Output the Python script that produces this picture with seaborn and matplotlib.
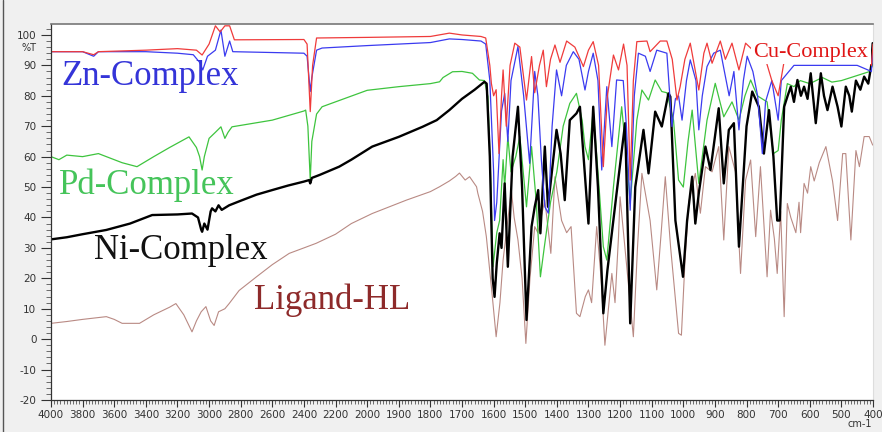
import numpy as np
import pandas as pd
import matplotlib
matplotlib.use("Agg")
import matplotlib.pyplot as plt
import seaborn as sns

# ---------------- data (wavenumber cm-1, %T) ----------------
cu_wn = [4000, 3800, 3730, 3700, 3400, 3200, 3080, 3044, 3000, 2960, 2930, 2900, 2870, 2840,
         2400, 2380, 2360, 2345, 2320, 2000, 1800, 1740, 1700, 1640, 1625, 1612, 1607, 1600,
         1592, 1583, 1575, 1570, 1560, 1548, 1533, 1517, 1496, 1480, 1470, 1455, 1443, 1433,
         1420, 1406, 1390, 1369, 1343, 1316, 1300, 1285, 1268, 1253, 1240, 1221, 1205, 1189,
         1178, 1168, 1158, 1147, 1115, 1105, 1073, 1052, 1035, 1020, 1010, 995, 978, 951, 935,
         925, 909, 883, 867, 846, 824, 803, 780, 740, 720, 700, 680, 600, 500, 420, 405, 400]
cu_t = [94.5, 94.5, 93.5, 94.5, 95, 95.5, 95, 93.4, 97, 103, 101, 103, 103, 98.4,
        98.5, 97, 74.8, 90, 99, 99.2, 99.5, 100.6, 100, 99.5, 99, 90, 84, 80,
        82, 61, 80, 88.5, 70, 90, 97.3, 96, 78.6, 92.9, 81, 90, 95, 83,
        92, 96.7, 91, 98, 96, 89.6, 95, 97.8, 90, 56.7, 80, 93.4, 88.5, 97,
        90, 52.3, 85, 97.8, 98, 94.5, 98, 98, 92, 78.6, 83, 92, 97.3, 81.9, 94,
        97.3, 90.7, 98, 92, 97.3, 88.5, 97.3, 95, 92, 85, 80, 92, 95, 95, 93, 90, 97]

zn_wn = [4000, 3800, 3730, 3700, 3400, 3200, 3100, 3060, 3040, 3010, 2960, 2925, 2900, 2870,
         2850, 2400, 2380, 2360, 2350, 2320, 2285, 2000, 1800, 1740, 1700, 1640, 1625, 1612,
         1600, 1597, 1590, 1575, 1565, 1555, 1545, 1523, 1505, 1486, 1470, 1460, 1449, 1438,
         1427, 1415, 1401, 1385, 1370, 1348, 1330, 1311, 1300, 1285, 1270, 1258, 1242, 1226,
         1211, 1190, 1180, 1168, 1155, 1142, 1120, 1105, 1084, 1052, 1036, 1025, 1015, 1004,
         990, 978, 960, 951, 940, 925, 904, 883, 870, 855, 840, 824, 810, 798, 780, 765, 750,
         740, 720, 700, 690, 650, 550, 450, 405, 400]
zn_t = [94.5, 94.5, 93, 94.5, 94.5, 94, 93.5, 91, 88.5, 93, 95, 101.6, 93, 98,
        94.5, 94, 93, 81.4, 86, 95, 95.7, 96.5, 97.5, 98.7, 98.5, 98, 97, 85,
        55, 39, 45, 75, 80.8, 65, 85, 96.2, 80, 57.8, 88, 80, 59, 43.5,
        41.4, 70, 88.5, 80, 90, 94.5, 92, 81.9, 88, 94, 85, 55.6, 83, 63.3,
        85.2, 85, 70, 42.4, 80, 94, 93, 88, 95, 94, 69.9, 79, 80, 72,
        85, 91.8, 85, 68.8, 80, 89.6, 94, 95, 88, 80, 88, 68.8, 85, 93, 88, 80, 61,
        78, 85, 72, 85, 90, 90, 90, 88, 96]

pd_wn = [4000, 3950, 3900, 3800, 3700, 3650, 3600, 3550, 3456, 3350, 3250, 3127, 3080, 3060,
         3044, 3030, 3000, 2960, 2925, 2900, 2880, 2855, 2600, 2400, 2389, 2375, 2360, 2350,
         2320, 2285, 2000, 1900, 1800, 1771, 1760, 1730, 1700, 1667, 1645, 1629, 1618, 1610,
         1602, 1590, 1581, 1570, 1565, 1555, 1545, 1530, 1517, 1496, 1480, 1465, 1452, 1440,
         1420, 1400, 1380, 1359, 1338, 1320, 1311, 1300, 1285, 1270, 1253, 1242, 1221, 1195,
         1180, 1168, 1147, 1131, 1110, 1089, 1068, 1052, 1031, 1015, 1000, 985, 972, 951, 925,
         899, 872, 846, 824, 805, 787, 766, 735, 715, 700, 690, 671, 650, 630, 600, 560, 530,
         500, 470, 440, 410, 400]
pd_t = [60, 59, 60.5, 60, 61, 60, 59, 58, 56.7, 60, 63, 66.5, 63, 60,
        55.6, 60, 66, 68, 69.8, 66, 68, 69.8, 72, 75, 75.3, 70, 52.3, 65,
        74, 76.4, 81.8, 83, 84, 84.6, 86, 87.9, 88, 87.4, 85.2, 85, 79.7, 55,
        23.8, 35, 39, 59, 50, 66.6, 55, 60, 66.6, 43.5, 63.3, 45, 20.5, 30,
        45, 55, 70, 77.5, 80.8, 72, 63.3, 59, 75.3, 55, 30.4, 26, 50, 76.4,
        60, 44.6, 72, 81.9, 78.6, 85.2, 81.4, 81, 72, 52.3, 50, 65, 75.3, 51.2, 72,
        84.1, 73.1, 78, 72, 80, 85.2, 80, 78, 61, 62, 72, 84, 83, 85, 84, 86, 84.5,
        85, 86, 87, 88, 90.7]

ni_wn = [4000, 3900, 3800, 3650, 3500, 3360, 3200, 3108, 3070, 3050, 3044, 3030, 3010, 2990,
         2981, 2960, 2940, 2920, 2873, 2800, 2700, 2601, 2500, 2400, 2367, 2360, 2350, 2300,
         2177, 2100, 1984, 1900, 1825, 1780, 1740, 1700, 1660, 1629, 1622, 1612, 1603, 1597,
         1590, 1581, 1575, 1565, 1555, 1540, 1523, 1510, 1496, 1480, 1470, 1459, 1452, 1438,
         1428, 1401, 1388, 1375, 1359, 1338, 1327, 1300, 1285, 1270, 1253, 1240, 1211, 1184,
         1168, 1152, 1126, 1110, 1089, 1068, 1047, 1041, 1025, 1001, 988, 972, 962, 951, 930,
         914, 888, 872, 856, 840, 824, 800, 782, 761, 745, 729, 715, 703, 695, 681, 670, 660,
         650, 639, 628, 618, 607, 597, 581, 565, 555, 544, 528, 512, 500, 486, 475, 467, 454,
         440, 428, 415, 406, 401]
ni_t = [32.8, 33.5, 34.5, 35.9, 38, 40.8, 41, 41.3, 40, 36, 35.3, 38, 36, 42,
        43, 42, 44, 42.5, 44, 45.5, 47.5, 49, 50.5, 51.8, 52.3, 51.2, 53, 54,
        56.7, 59, 63.3, 66.5, 69.8, 72, 75.3, 79, 82, 84.6, 84, 60, 20, 13.9,
        25, 34.8, 30, 51.2, 23.8, 60, 76.4, 50, 6.3, 37, 43.5, 49, 34.8, 63.3,
        43.5, 68.8, 61, 45.7, 72, 74.2, 76.4, 38, 76.4, 50, 8.5, 22.7, 48, 71,
        5.2, 50, 68.8, 54.5, 74.8, 69.9, 80.8, 79.7, 39, 20.5, 39, 53.4, 38, 48, 63.3,
        55.6, 75.9, 51.2, 68.8, 71, 30.4, 70, 81.4, 76.4, 61, 75.3, 60, 39, 39, 76.4, 80, 83,
        78, 85.2, 80, 83, 79, 87.4, 71, 87.4, 80, 75.3, 83, 76.4, 69.9, 83, 80, 74.8, 85,
        82, 86.3, 84, 89.6, 97.3]

hl_wn = [4000, 3900, 3800, 3650, 3600, 3550, 3440, 3350, 3250, 3210, 3160, 3108, 3080, 3050,
         3020, 2990, 2968, 2940, 2900, 2873, 2810, 2700, 2600, 2493, 2400, 2323, 2200, 2100,
         1984, 1876, 1800, 1771, 1740, 1720, 1708, 1690, 1676, 1654, 1650, 1635, 1623, 1605,
         1592, 1580, 1570, 1544, 1535, 1523, 1510, 1498, 1485, 1470, 1460, 1438, 1419, 1406,
         1385, 1369, 1355, 1338, 1327, 1310, 1300, 1290, 1274, 1260, 1248, 1235, 1226, 1216,
         1205, 1200, 1180, 1158, 1145, 1131, 1105, 1084, 1070, 1057, 1040, 1015, 1006, 995,
         983, 962, 946, 930, 909, 888, 872, 856, 835, 819, 803, 787, 771, 756, 735, 724, 712,
         703, 692, 681, 671, 660, 644, 634, 629, 618, 607, 597, 586, 570, 549, 528, 512, 496,
         486, 470, 454, 443, 428, 412, 401]
hl_t = [5.2, 5.8, 6.5, 7.4, 6.5, 5.2, 5.2, 8, 10.5, 11.7, 8, 2.4, 6, 9,
        10.7, 6, 4.5, 9, 10, 11.7, 16, 20.5, 24.5, 28.2, 30, 31.5, 34.5, 38,
        41.3, 45.7, 48.5, 50.1, 52, 53.5, 54.6, 52.3, 53.4, 50.1, 48, 42, 33.7, 15,
        0.8, 12, 26, 49, 40, 32.6, 20, -1.4, 20, 37, 35, 45.7, 28.2, 53.4,
        39, 35, 37, 8.5, 7.4, 14, 16.2, 12, 37, 20, -2, 12, 21.6, 12,
        33.7, 46.8, 25, 0.8, 30, 54.5, 39, 16.2, 35, 53.4, 30, 1.9, 1.3, 25,
        45, 54.5, 41.4, 56.7, 55, 63.3, 32.6, 63.3, 55, 21.6, 52.3, 58.9, 33.7, 56.7, 20.5, 42.4, 33,
        21.6, 42, 7.4, 44.6, 40, 35, 45, 35, 51.2, 48, 56.7, 52, 58, 63.3, 52, 39, 61,
        61, 32.6, 62, 56.7, 66.6, 66.6, 63.8]

series_names = ["Ligand-HL", "Pd-Complex", "Ni-Complex", "Zn-Complex", "Cu-Complex"]
major_x = [4000, 3800, 3600, 3400, 3200, 3000, 2800, 2600, 2400, 2200, 2000, 1900, 1800,
           1700, 1600, 1500, 1400, 1300, 1200, 1100, 1000, 900, 800, 700, 600, 500, 400]
major_y = [-20, -10, 0, 10, 20, 30, 40, 50, 60, 70, 80, 90, 100]

# ---------------- plot ----------------
sns.set_style("white")
plt.rcParams["font.family"] = ["DejaVu Sans"]

fig = plt.figure(figsize=(8.82, 4.32), dpi=100, facecolor="#f0f0f0")
ax = fig.add_axes([51 / 882, 1 - 400 / 432, (873 - 51) / 882, (400 - 24) / 432])
ax.set_facecolor("white")


def fwd(w):
    w = np.asarray(w, dtype=float)
    return np.where(w > 2000, 2000 + (w - 2000) / 2.0, w)


def inv(t):
    t = np.asarray(t, dtype=float)
    return np.where(t > 2000, 2000 + (t - 2000) * 2.0, t)


ax.set_xscale("function", functions=(fwd, inv))

specs = [
    (hl_wn, hl_t, "#b98a84", 0.8),
    (pd_wn, pd_t, "#3ec43e", 0.9),
    (ni_wn, ni_t, "#000000", 1.7),
    (zn_wn, zn_t, "#3b3bf0", 0.9),
    (cu_wn, cu_t, "#ef3b3b", 0.9),
]
for name, (wn, t, col, lw) in zip(series_names, specs):
    df = pd.DataFrame({"wn": wn, "T": t})
    sns.lineplot(data=df, x="wn", y="T", ax=ax, color=col, linewidth=lw,
                 estimator=None, sort=True, legend=False)

ax.set_xlim(4000, 400)
ax.set_ylim(-20, 103.6)
ax.set_xlabel("")
ax.set_ylabel("")

# ticks
ax.xaxis.set_major_locator(matplotlib.ticker.FixedLocator(major_x))
ax.set_xticklabels([str(v) for v in major_x])
minor_x = list(range(2000, 4001, 20)) + list(range(400, 2000, 10))
ax.xaxis.set_minor_locator(matplotlib.ticker.FixedLocator(minor_x))
ax.yaxis.set_major_locator(matplotlib.ticker.FixedLocator(major_y))
ax.set_yticklabels([str(v) for v in major_y])
ax.yaxis.set_minor_locator(matplotlib.ticker.MultipleLocator(2))
ax.tick_params(axis="both", which="both", bottom=True, left=True, top=False, right=False)
ax.tick_params(axis="both", which="major", labelsize=7.5, labelcolor="#333333",
               color="#333333", direction="out", length=7, width=0.8)
ax.tick_params(axis="both", which="minor", direction="out", length=3.5, width=0.6,
               color="#555555")
ax.tick_params(axis="x", which="major", length=5, pad=2)
ax.tick_params(axis="x", which="minor", length=3)

for side in ["left", "bottom"]:
    ax.spines[side].set_color("#333333")
    ax.spines[side].set_linewidth(0.9)
ax.spines["top"].set_color("#777777")
ax.spines["top"].set_linewidth(1.2)
ax.spines["right"].set_color("#dddddd")

# unit labels
fig.text(22 / 882, 1 - 48 / 432, "%T", fontsize=7, color="#333333", ha="left", va="center")
fig.text(848 / 882, 1 - 424 / 432, "cm-1", fontsize=7, color="#333333", ha="left", va="center")

# series labels
serif = ["Liberation Serif", "DejaVu Serif"]
ax.text(3937, 86.2, "Zn-Complex", color="#3434d8", fontsize=25, family=serif,
        ha="left", va="center")
ax.text(3949, 50.7, "Pd-Complex", color="#45c45a", fontsize=25, family=serif,
        ha="left", va="center")
ax.text(3728, 29.3, "Ni-Complex", color="#111111", fontsize=25, family=serif,
        ha="left", va="center")
ax.text(2715, 12.8, "Ligand-HL", color="#8e2a2a", fontsize=25, family=serif,
        ha="left", va="center")
ax.text(778, 94.3, "Cu-Complex", color="#e01515", fontsize=16, family=serif,
        ha="left", va="center", zorder=10,
        bbox=dict(boxstyle="square,pad=0.1", fc="white", ec="none"))

# outer frame line on the left like the screenshot
fig.add_artist(matplotlib.lines.Line2D([3 / 882, 3 / 882], [0, 1], color="#555555", lw=1.0))

fig.savefig("out.png", dpi=100, facecolor=fig.get_facecolor())
